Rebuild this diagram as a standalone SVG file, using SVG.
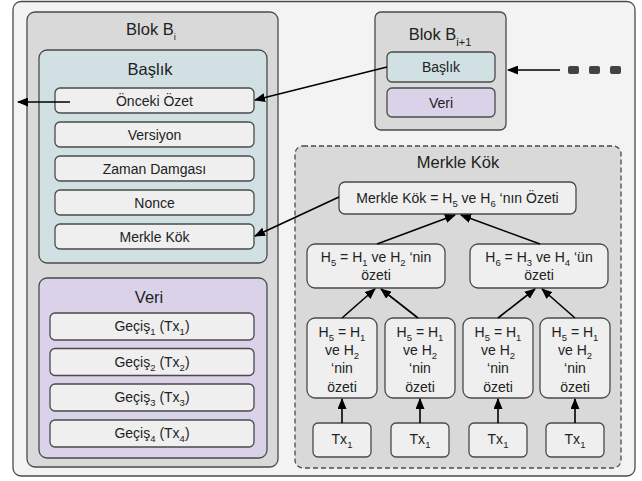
<svg xmlns="http://www.w3.org/2000/svg" width="642" height="481" viewBox="0 0 642 481">
<defs>
<marker id="ah" markerUnits="userSpaceOnUse" markerWidth="11" markerHeight="9" refX="10" refY="4.5" orient="auto">
<path d="M0,0 L11,4.5 L0,9 z" fill="#000"/>
</marker>
<style>
text{font-family:"Liberation Sans",Arial,sans-serif;fill:#222;text-anchor:middle}
.h{font-size:16.5px}
.t{font-size:14px}
.s{font-size:9.5px}
.s2{font-size:11px}
.box{stroke:#4a4a4a;stroke-width:1.3}
.outer{fill:#f3f3f3}
.grey{fill:#d9d9d9}
.blue{fill:#d0e0e3}
.purple{fill:#d9d2e9}
.light{fill:#efefef}
.arr{stroke:#000;stroke-width:1.6;fill:none;marker-end:url(#ah)}
</style>
</defs>

<rect class="box outer" x="13" y="1.5" width="622" height="474.5" rx="8"/>

<g id="blokBi">
<rect class="box grey" x="27" y="12" width="251" height="455" rx="8"/>
<text class="h" x="151" y="35">Blok B<tspan class="s" dy="5">i</tspan></text>
</g>

<g id="baslik">
<rect class="box blue" x="39" y="50" width="228" height="213" rx="8"/>
<text class="h" x="150" y="75">Başlık</text>
</g>
<g id="onceki"><rect class="box light" x="55" y="88" width="199" height="25" rx="5"/><text class="t" x="154.5" y="105.5">Önceki Özet</text></g>
<g id="versiyon"><rect class="box light" x="55" y="122" width="199" height="25" rx="5"/><text class="t" x="154.5" y="139.5">Versiyon</text></g>
<g id="zaman"><rect class="box light" x="55" y="156" width="199" height="25" rx="5"/><text class="t" x="154.5" y="173.5">Zaman Damgası</text></g>
<g id="nonce"><rect class="box light" x="55" y="190" width="199" height="25" rx="5"/><text class="t" x="154.5" y="207.5">Nonce</text></g>
<g id="merkleKokField"><rect class="box light" x="55" y="224" width="199" height="25" rx="5"/><text class="t" x="154.5" y="241.5">Merkle Kök</text></g>

<g id="veri">
<rect class="box purple" x="39" y="278" width="228" height="180" rx="8"/>
<text class="h" x="149" y="303">Veri</text>
</g>
<g id="gecis1"><rect class="box light" x="50" y="313" width="204" height="27" rx="5"/><text class="t" x="152" y="331">Geçiş<tspan class="s" dy="4">1</tspan><tspan dy="-4"> (Tx</tspan><tspan class="s" dy="4">1</tspan><tspan dy="-4">)</tspan></text></g>
<g id="gecis2"><rect class="box light" x="50" y="348.5" width="204" height="27" rx="5"/><text class="t" x="152" y="366.5">Geçiş<tspan class="s" dy="4">2</tspan><tspan dy="-4"> (Tx</tspan><tspan class="s" dy="4">2</tspan><tspan dy="-4">)</tspan></text></g>
<g id="gecis3"><rect class="box light" x="50" y="384" width="204" height="27" rx="5"/><text class="t" x="152" y="402">Geçiş<tspan class="s" dy="4">3</tspan><tspan dy="-4"> (Tx</tspan><tspan class="s" dy="4">3</tspan><tspan dy="-4">)</tspan></text></g>
<g id="gecis4"><rect class="box light" x="50" y="420" width="204" height="27" rx="5"/><text class="t" x="152" y="438">Geçiş<tspan class="s" dy="4">4</tspan><tspan dy="-4"> (Tx</tspan><tspan class="s" dy="4">4</tspan><tspan dy="-4">)</tspan></text></g>

<g id="blokBi1">
<rect class="box grey" x="375" y="12" width="131" height="118" rx="6"/>
<text class="h" x="440" y="40">Blok B<tspan class="s2" dy="6">i+1</tspan></text>
</g>
<g id="baslik2"><rect class="box blue" x="387" y="52" width="108" height="30" rx="5"/><text class="t" x="441" y="72">Başlık</text></g>
<g id="veri2"><rect class="box purple" x="387" y="88" width="108" height="29" rx="5"/><text class="t" x="441" y="107.5">Veri</text></g>

<g id="dots">
<rect x="568" y="66" width="11" height="8" rx="2" fill="#434343"/>
<rect x="589" y="66" width="11" height="8" rx="2" fill="#434343"/>
<rect x="610" y="66" width="11" height="8" rx="2" fill="#434343"/>
</g>

<g id="merkleRegion">
<rect x="295" y="146" width="326" height="322" rx="8" fill="#d9d9d9" stroke="#4a4a4a" stroke-width="1.3" stroke-dasharray="5,3"/>
<text class="h" x="458" y="168">Merkle Kök</text>
</g>
<g id="root"><rect class="box light" x="339" y="182" width="237" height="32" rx="6"/>
<text class="t" x="457.5" y="203">Merkle Kök = H<tspan class="s" dy="4">5</tspan><tspan dy="-4"> ve H</tspan><tspan class="s" dy="4">6</tspan><tspan dy="-4"> ‘nın Özeti</tspan></text></g>
<g id="h5"><rect class="box light" x="307" y="244" width="138" height="44" rx="8"/>
<text class="t" x="376" y="262">H<tspan class="s" dy="4">5</tspan><tspan dy="-4"> = H</tspan><tspan class="s" dy="4">1</tspan><tspan dy="-4"> ve H</tspan><tspan class="s" dy="4">2</tspan><tspan dy="-4"> ‘nin</tspan></text>
<text class="t" x="376" y="280">özeti</text></g>
<g id="h6"><rect class="box light" x="470" y="244" width="138" height="44" rx="8"/>
<text class="t" x="539" y="262">H<tspan class="s" dy="4">6</tspan><tspan dy="-4"> = H</tspan><tspan class="s" dy="4">3</tspan><tspan dy="-4"> ve H</tspan><tspan class="s" dy="4">4</tspan><tspan dy="-4"> ‘ün</tspan></text>
<text class="t" x="539" y="280">özeti</text></g>

<g id="leaf1"><rect class="box light" x="307" y="318" width="70" height="80" rx="8"/>
<text class="t" x="342" y="337">H<tspan class="s" dy="4">5</tspan><tspan dy="-4"> = H</tspan><tspan class="s" dy="4">1</tspan></text>
<text class="t" x="342" y="355">ve H<tspan class="s" dy="4">2</tspan></text>
<text class="t" x="342" y="373">‘nin</text><text class="t" x="342" y="392">özeti</text></g>
<g id="leaf2"><rect class="box light" x="385" y="318" width="70" height="80" rx="8"/>
<text class="t" x="420" y="337">H<tspan class="s" dy="4">5</tspan><tspan dy="-4"> = H</tspan><tspan class="s" dy="4">1</tspan></text>
<text class="t" x="420" y="355">ve H<tspan class="s" dy="4">2</tspan></text>
<text class="t" x="420" y="373">‘nin</text><text class="t" x="420" y="392">özeti</text></g>
<g id="leaf3"><rect class="box light" x="463" y="318" width="70" height="80" rx="8"/>
<text class="t" x="498" y="337">H<tspan class="s" dy="4">5</tspan><tspan dy="-4"> = H</tspan><tspan class="s" dy="4">1</tspan></text>
<text class="t" x="498" y="355">ve H<tspan class="s" dy="4">2</tspan></text>
<text class="t" x="498" y="373">‘nin</text><text class="t" x="498" y="392">özeti</text></g>
<g id="leaf4"><rect class="box light" x="540" y="318" width="70" height="80" rx="8"/>
<text class="t" x="575" y="337">H<tspan class="s" dy="4">5</tspan><tspan dy="-4"> = H</tspan><tspan class="s" dy="4">1</tspan></text>
<text class="t" x="575" y="355">ve H<tspan class="s" dy="4">2</tspan></text>
<text class="t" x="575" y="373">‘nin</text><text class="t" x="575" y="392">özeti</text></g>

<g id="tx1"><rect class="box light" x="313" y="423" width="58" height="34" rx="5"/><text class="t" x="342" y="444">Tx<tspan class="s" dy="4">1</tspan></text></g>
<g id="tx2"><rect class="box light" x="391" y="423" width="58" height="34" rx="5"/><text class="t" x="420" y="444">Tx<tspan class="s" dy="4">1</tspan></text></g>
<g id="tx3"><rect class="box light" x="469" y="423" width="58" height="34" rx="5"/><text class="t" x="498" y="444">Tx<tspan class="s" dy="4">1</tspan></text></g>
<g id="tx4"><rect class="box light" x="546" y="423" width="58" height="34" rx="5"/><text class="t" x="575" y="444">Tx<tspan class="s" dy="4">1</tspan></text></g>

<g id="connectors">
<line class="arr" x1="560" y1="70" x2="508" y2="70"/>
<line class="arr" x1="387" y1="67" x2="255" y2="100"/>
<line class="arr" x1="70" y1="102" x2="18" y2="102"/>
<line class="arr" x1="339" y1="197" x2="255" y2="236"/>
<line class="arr" x1="377" y1="244" x2="455" y2="215"/>
<line class="arr" x1="540" y1="244" x2="461" y2="215"/>
<line class="arr" x1="342" y1="318" x2="375" y2="289"/>
<line class="arr" x1="418" y1="318" x2="381" y2="289"/>
<line class="arr" x1="498" y1="318" x2="535" y2="289"/>
<line class="arr" x1="575" y1="318" x2="542" y2="289"/>
<line class="arr" x1="342" y1="423" x2="342" y2="399"/>
<line class="arr" x1="420" y1="423" x2="420" y2="399"/>
<line class="arr" x1="498" y1="423" x2="498" y2="399"/>
<line class="arr" x1="575" y1="423" x2="575" y2="399"/>
</g>
</svg>
